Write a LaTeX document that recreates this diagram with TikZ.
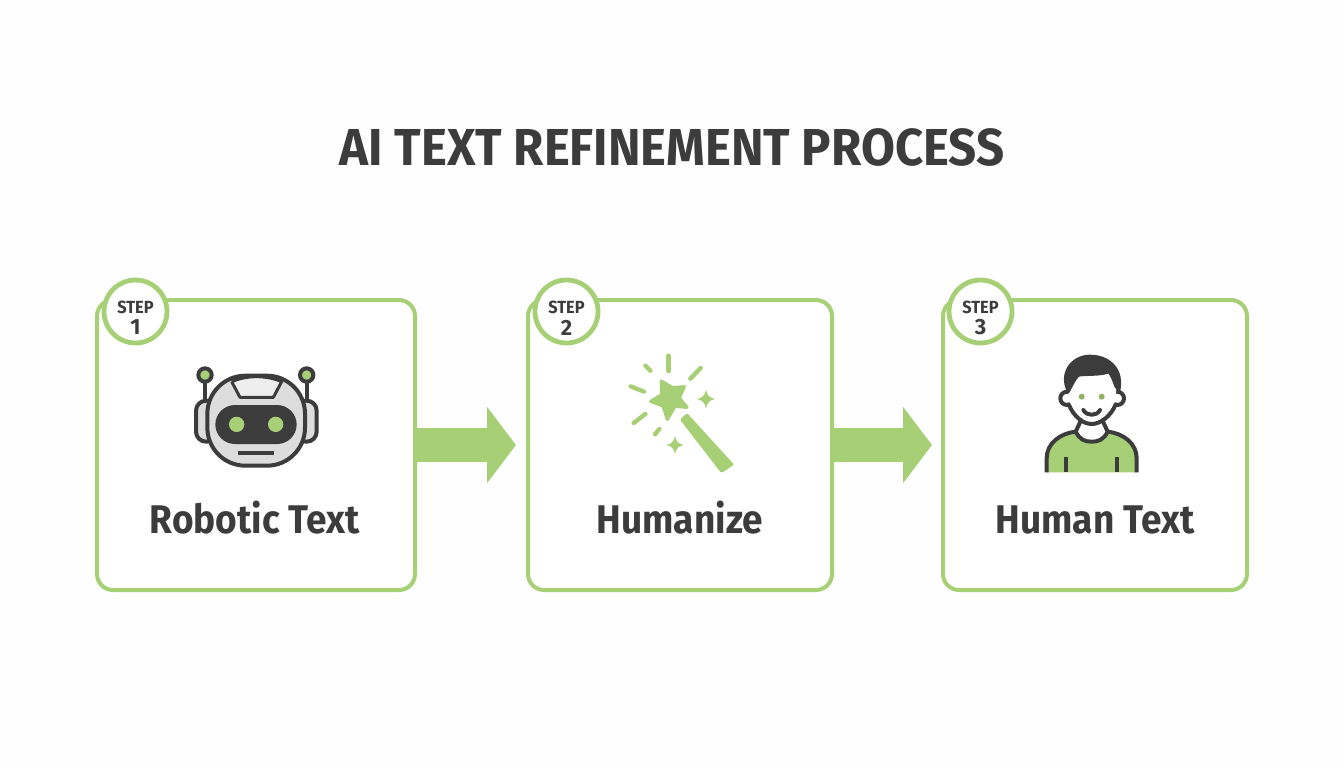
\documentclass[tikz,border=0pt]{standalone}
\usepackage{fontspec}
\usepackage{graphicx}
\setmainfont{Fira Sans}
\usetikzlibrary{arrows.meta}
\definecolor{leaf}{HTML}{A7D076}
\definecolor{ink}{HTML}{3C3C3C}
\definecolor{plate}{HTML}{DDDDDD}
\definecolor{paper}{HTML}{FDFEFD}
\tikzset{
  stepbox/.style={draw=leaf, line width=2pt, rounded corners=8pt, minimum height=145pt, outer sep=0pt, fill=white},
  badge/.style={draw=leaf, line width=2.4pt, circle, fill=white, minimum size=31.5pt, inner sep=0pt, outer sep=0pt},
  flow/.style={draw=leaf, line width=17pt, -{Triangle[length=14.5pt,width=37.5pt]}},
  caption/.style={text=ink, anchor=base, font=\fontsize{20}{22}\selectfont\bfseries},
  iconline/.style={draw=ink, line width=2pt, line join=round, line cap=round},
  ray/.style={draw=leaf, line cap=round},
  icon/.style={x=.16667pt, y=-.16667pt}
}
\newcommand{\slim}[2]{\scalebox{#1}[1]{#2}}
\begin{document}
\begin{tikzpicture}[x=.5pt, y=-.5pt, >=latex]
    \useasboundingbox (0,0) rectangle (1344,768);
    \fill[paper] (0,0) rectangle (1344,768);
    \node[text=ink, anchor=base, font=\fontsize{26}{30}\selectfont\bfseries] (title) at (672,165) {\slim{.945}{AI TEXT REFINEMENT PROCESS}};
    % boxes
    \node[stepbox, minimum width=159pt] (box1) at (256,445) {};
    \node[stepbox, minimum width=152pt] (box2) at (680,445) {};
    \node[stepbox, minimum width=152pt] (box3) at (1095,445) {};
    % arrows
    \coordinate (tip1) at (516,445);
    \coordinate (tip2) at (932,445);
    \draw[flow] (box1.east) -- (tip1);
    \draw[flow] (box2.east) -- (tip2);
    % badges
    \foreach \nm/\cx/\num in {badge1/135.5/1, badge2/566.5/2, badge3/980.5/3}{
        \node[badge] (\nm) at (\cx,311.5) {};
        \node[text=ink, font=\fontsize{8.8}{10}\selectfont\bfseries] (\nm t) at (\cx,307.5) {\slim{.93}{STEP}};
        \node[text=ink, font=\fontsize{11}{12}\selectfont\bfseries] (\nm n) at (\cx,327.5) {\num};
    }
    % captions
    \node[caption] (cap1) at (255,533) {\slim{.926}{Robotic Text}};
    \node[caption] (cap2) at (680,533) {\slim{.926}{Humanize}};
    \node[caption] (cap3) at (1095,533) {\slim{.926}{Human Text}};
    % robot
    \begin{scope}[shift={(90,270)}, icon]
        \draw[iconline] (345,315)--(345,400);
        \draw[iconline] (650,315)--(650,400);
        \draw[iconline, fill=leaf] (345,315) circle[radius=20];
        \draw[iconline, fill=leaf] (650,315) circle[radius=20];
        \draw[iconline, fill=plate, rounded corners=5pt] (318,392) rectangle (380,515);
        \draw[iconline, fill=plate, rounded corners=5pt] (618,392) rectangle (680,515);
        \draw[iconline, fill=plate, rounded corners=19pt] (352,317) rectangle (645,587);
        \draw[line width=1.5pt, draw=ink, fill=plate!50!white, line join=round] (425,335) -- (450,382) -- (550,382) -- (575,335) .. controls (530,315) and (470,315) .. (425,335);
        \fill[ink, rounded corners=9.8pt] (376,405) rectangle (620,522);
        \fill[leaf] (440,463) circle[radius=23];
        \fill[leaf] (557,463) circle[radius=23];
        \draw[ink, line width=2pt] (445,549) -- (552,549);
    \end{scope}
    % wand
    \begin{scope}[shift={(620,345)}, icon]
        \fill[leaf, draw=leaf, line width=1.6pt, line join=round] (124,108) -- (157,128) -- (193,125) -- (178,159) -- (201,187) -- (165,184) -- (142,223) -- (129,183) -- (92,169) -- (125,149) -- cycle;
        \fill[leaf, draw=leaf, line width=1.6pt, line join=round] (201,211) -- (186,224) -- (305,378) -- (335,358) -- cycle;
        \draw[ray, line width=2.6pt] (146,33) -- (146,77);
        \draw[ray, line width=2.2pt] (76,62) -- (91,77);
        \draw[ray, line width=2.2pt] (242,69) -- (211,101);
        \draw[ray, line width=2.2pt] (32,124) -- (72,140);
        \draw[ray, line width=2.2pt] (76,207) -- (41,234);
        \draw[ray, line width=2.2pt] (118,252) -- (105,268);
        \fill[leaf] (258,134) .. controls (262,152) and (268,158) .. (285,162) .. controls (268,166) and (262,172) .. (258,190) .. controls (254,172) and (248,166) .. (231,162) .. controls (248,158) and (254,152) .. (258,134) -- cycle;
        \fill[leaf] (165,273) .. controls (169,291) and (175,296) .. (191,300) .. controls (175,304) and (169,309) .. (165,327) .. controls (161,309) and (155,304) .. (139,300) .. controls (155,296) and (161,291) .. (165,273) -- cycle;
    \end{scope}
    % person
    \begin{scope}[shift={(1035,345)}, icon]
        \fill[leaf] (35,382) -- (35,340) .. controls (35,295) and (75,265) .. (122,260) -- (218,260) .. controls (265,265) and (305,295) .. (305,340) -- (305,382) -- cycle;
        \fill[white] (135,230) -- (122,262) .. controls (135,285) and (150,290) .. (170,290) .. controls (190,290) and (205,285) .. (218,262) -- (205,230) -- cycle;
        \draw[draw=ink, line width=2pt, line join=round] (35,382) -- (35,340) .. controls (35,295) and (75,265) .. (122,260) .. controls (135,285) and (150,290) .. (170,290) .. controls (190,290) and (205,285) .. (218,260) .. controls (265,265) and (305,295) .. (305,340) -- (305,382);
        \draw[draw=ink, line width=2pt] (93,335) -- (93,382);
        \draw[draw=ink, line width=2pt] (245,335) -- (245,382);
        \draw[iconline] (135,232) -- (122,260);
        \draw[iconline] (205,232) -- (218,260);
        \draw[iconline, fill=white] (96,160) circle[radius=20];
        \draw[iconline, fill=white] (247,160) circle[radius=20];
        \fill[white] (100,95) -- (100,178) .. controls (115,215) and (145,237) .. (170,237) .. controls (195,237) and (228,215) .. (243,178) -- (243,95) -- cycle;
        \draw[iconline] (101,178) .. controls (116,215) and (145,237) .. (170,237) .. controls (195,237) and (227,215) .. (242,178);
        \fill[ink, draw=ink, line width=1pt, line join=round] (100,142) .. controls (70,85) and (110,32) .. (165,32) .. controls (225,32) and (268,75) .. (252,140) -- (240,122) .. controls (235,105) and (228,92) .. (222,82) .. controls (195,92) and (155,88) .. (130,92) .. controls (118,105) and (110,125) .. (100,142) -- cycle;
        \fill[leaf!85!black] (140,155) circle[radius=9];
        \fill[leaf!85!black] (200,155) circle[radius=9];
        \draw[iconline] (145,195) .. controls (155,214) and (185,214) .. (195,195);
    \end{scope}
\end{tikzpicture}
\end{document}
